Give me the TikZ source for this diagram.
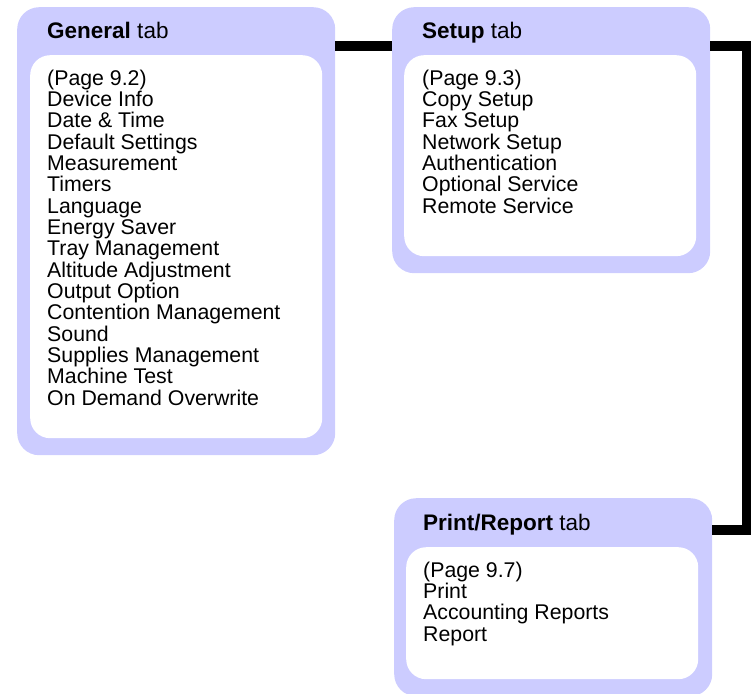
\documentclass[tikz,border=0pt]{standalone}
\usepackage{fontspec}
\setmainfont{Liberation Sans}
\definecolor{tablav}{RGB}{204,204,255}

\begin{document}
\begin{tikzpicture}[x=1pt,y=-1pt]
        \tikzset{tabbox/.style = {fill=tablav,rounded corners=22pt,inner sep=0pt,minimum width=318pt,anchor=north west},
                 inbox/.style = {fill=white,rounded corners=20pt,inner sep=0pt,minimum width=292pt,anchor=north west},
                 tabtitle/.style = {inner sep=0pt,anchor=base west,font=\fontsize{22.5}{27}\selectfont},
                 tablist/.style = {inner sep=0pt,anchor=base west,align=left,font=\fontsize{21.3}{21.33}\selectfont}};
        \useasboundingbox (0,0) rectangle (751,693);
        \node[tabbox,minimum height=448pt] (g) at (17,7) {};
        \node[inbox,minimum height=383pt] (gi) at (30,55) {};
        \node[tabtitle] (gt) at (47,38) {\textbf{General} tab};
        % base of a list node is its last line
        \node[tablist] (gl) at (47,405) {(Page 9.2)\\Device Info\\Date \& Time\\Default Settings\\Measurement\\Timers\\Language\\Energy Saver\\Tray Management\\Altitude Adjustment\\Output Option\\Contention Management\\Sound\\Supplies Management\\Machine Test\\On Demand Overwrite};
        \node[tabbox,minimum height=266pt] (s) at (392,7) {};
        \node[inbox,minimum height=201pt] (si) at (404,55) {};
        \node[tabtitle] (st) at (422,38) {\textbf{Setup} tab};
        \node[tablist] (sl) at (422,213) {(Page 9.3)\\Copy Setup\\Fax Setup\\Network Setup\\Authentication\\Optional Service\\Remote Service};
        \node[tabbox,minimum height=198pt] (p) at (394,498) {};
        \node[inbox,minimum height=132pt] (pi) at (406,547) {};
        \node[tabtitle] (pt) at (423,530) {\textbf{Print/Report} tab};
        \node[tablist] (pl) at (423,641) {(Page 9.7)\\Print\\Accounting Reports\\Report};
        \coordinate (l1) at (0,46.5);
        \coordinate (l2) at (747,46.5);
        \coordinate (l3) at (0,529.5);
        \draw[line width=10pt] (g.east |- l1) -- (s.west |- l1);
        \draw[line width=10pt] (s.east |- l1) -- (l2) |- (p.east |- l3);
    \end{tikzpicture}
\end{document}
